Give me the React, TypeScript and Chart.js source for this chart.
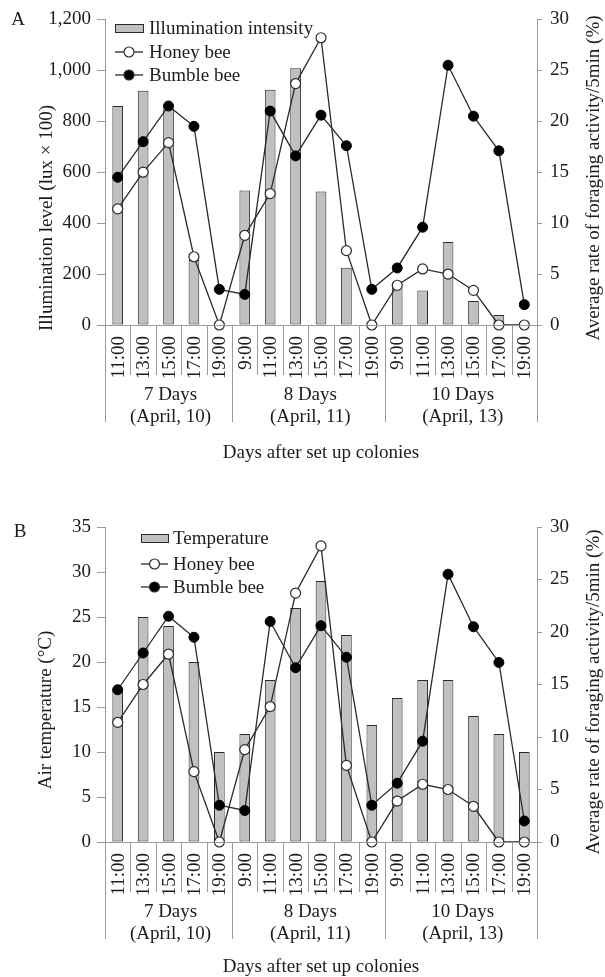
import React, { useEffect, useRef } from 'react';
import { Chart, registerables } from 'chart.js';

Chart.register(...registerables);

// ---------- data ----------
const timeLabels = ['11:00', '13:00', '15:00', '17:00', '19:00', '9:00', '11:00', '13:00', '15:00', '17:00', '19:00', '9:00', '11:00', '13:00', '15:00', '17:00', '19:00'];
const groupNames = ['7 Days', '8 Days', '10 Days'];
const groupDates = ['(April, 10)', '(April, 11)', '(April, 13)'];
const groupSizes = [5, 6, 6];

const illumination = [860, 920, 850, 255, 0, 528, 924, 1008, 524, 225, 0, 150, 135, 326, 94, 39, 0];
const temperature = [17, 25, 24, 20, 10, 12, 18, 26, 29, 23, 13, 16, 18, 18, 14, 12, 10];
const honeyBee = [11.4, 15.0, 17.9, 6.7, 0, 8.8, 12.9, 23.7, 28.2, 7.3, 0, 3.9, 5.5, 5.0, 3.4, 0, 0];
const bumbleBee = [14.5, 18.0, 21.5, 19.5, 3.5, 3.0, 21.0, 16.6, 20.6, 17.6, 3.5, 5.6, 9.6, 25.5, 20.5, 17.1, 2.0];

const illumAxis = { min: 0, max: 1200, step: 200 };
const tempAxis = { min: 0, max: 35, step: 5 };
const activityAxis = { min: 0, max: 30, step: 5 };

// ---------- styles ----------
const FONT = "'Liberation Serif', 'Times New Roman', serif";
const FS = 19;
const TEXT = '#1c1c1c';
const AXIS = '#9a9a9a';
const BAR_FILL = '#c0c0c0';
const DARK = '#2a2a2a';

type PanelCfg = {
  letter: string;
  letterPos: [number, number];
  leftTitle: string;
  leftTitlePos: [number, number];
  rightTitle: string;
  rightTitlePos: [number, number];
  barLabel: string;
  legend: { x0: number; x1: number; textX: number; rows: number[] };
  xTitleOffset: number;
};

function makePlugin(cfg: PanelCfg) {
  return {
    id: 'panelDecor',
    afterDraw(chart: any) {
      const ctx = chart.ctx as CanvasRenderingContext2D;
      const area = chart.chartArea;
      const xs = chart.scales.x;
      const n = timeLabels.length;
      const step = xs.getPixelForValue(1) - xs.getPixelForValue(0);
      ctx.save();
      // x axis line
      ctx.strokeStyle = AXIS;
      ctx.lineWidth = 1;
      ctx.beginPath();
      ctx.moveTo(area.left, Math.round(area.bottom) + 0.5);
      ctx.lineTo(area.right, Math.round(area.bottom) + 0.5);
      ctx.stroke();
      // separators
      const groupBounds: number[] = [0];
      groupSizes.forEach((s) => groupBounds.push(groupBounds[groupBounds.length - 1] + s));
      for (let i = 0; i <= n; i++) {
        const x = i < n ? xs.getPixelForValue(i) - step / 2 : xs.getPixelForValue(n - 1) + step / 2;
        const isGroup = groupBounds.includes(i);
        const len = isGroup ? 97 : 50;
        const px = Math.round(x) + 0.5;
        ctx.beginPath();
        ctx.moveTo(px, area.bottom);
        ctx.lineTo(px, area.bottom + len);
        ctx.stroke();
      }
      // time labels
      ctx.fillStyle = TEXT;
      ctx.font = `${FS}px ${FONT}`;
      for (let i = 0; i < n; i++) {
        const x = xs.getPixelForValue(i);
        ctx.save();
        ctx.translate(x + 1, area.bottom + 11);
        ctx.rotate(-Math.PI / 2);
        ctx.textAlign = 'right';
        ctx.textBaseline = 'middle';
        ctx.fillText(timeLabels[i], 0, 0);
        ctx.restore();
      }
      // group labels
      ctx.textAlign = 'center';
      ctx.textBaseline = 'middle';
      for (let g = 0; g < groupSizes.length; g++) {
        const a = xs.getPixelForValue(groupBounds[g]) - step / 2;
        const b = xs.getPixelForValue(groupBounds[g + 1] - 1) + step / 2;
        const cx = (a + b) / 2 + 2;
        ctx.fillText(groupNames[g], cx, area.bottom + 70);
        ctx.fillText(groupDates[g], cx, area.bottom + 92);
      }
      // x title
      ctx.fillText('Days after set up colonies', (area.left + area.right) / 2, area.bottom + cfg.xTitleOffset);
      // panel letter
      ctx.fillText(cfg.letter, cfg.letterPos[0], cfg.letterPos[1]);
      // y titles
      ctx.save();
      ctx.translate(cfg.leftTitlePos[0], cfg.leftTitlePos[1]);
      ctx.rotate(-Math.PI / 2);
      ctx.fillText(cfg.leftTitle, 0, 0);
      ctx.restore();
      ctx.save();
      ctx.translate(cfg.rightTitlePos[0], cfg.rightTitlePos[1]);
      ctx.rotate(-Math.PI / 2);
      ctx.fillText(cfg.rightTitle, 0, 0);
      ctx.restore();
      // legend
      const L = cfg.legend;
      ctx.textAlign = 'left';
      // bar swatch
      ctx.fillStyle = BAR_FILL;
      ctx.strokeStyle = DARK;
      ctx.lineWidth = 1;
      ctx.fillRect(L.x0, L.rows[0] - 4, L.x1 - L.x0, 8);
      ctx.strokeRect(L.x0 + 0.5, L.rows[0] - 3.5, L.x1 - L.x0, 8);
      ctx.fillStyle = TEXT;
      ctx.fillText(cfg.barLabel, L.textX, L.rows[0] + 1);
      const names = ['Honey bee', 'Bumble bee'];
      const fills = ['#ffffff', '#000000'];
      for (let k = 0; k < 2; k++) {
        const y = L.rows[k + 1];
        ctx.strokeStyle = DARK;
        ctx.lineWidth = 1.3;
        ctx.beginPath();
        ctx.moveTo(L.x0, y);
        ctx.lineTo(L.x1, y);
        ctx.stroke();
        ctx.beginPath();
        ctx.arc((L.x0 + L.x1) / 2, y, 5, 0, Math.PI * 2);
        ctx.fillStyle = fills[k];
        ctx.fill();
        ctx.lineWidth = 1.2;
        ctx.stroke();
        ctx.fillStyle = TEXT;
        ctx.fillText(names[k], L.textX, y + 1);
      }
      ctx.restore();
    },
  };
}

function buildConfig(barData: number[], barLabel: string, leftAxis: { min: number; max: number; step: number }, padTop: number, padBottom: number, cfg: PanelCfg) {
  const tickFont = { family: FONT, size: FS };
  return {
    type: 'bar' as const,
    data: {
      labels: timeLabels,
      datasets: [
        {
          type: 'line' as const,
          label: 'Honey bee',
          data: honeyBee,
          yAxisID: 'y1',
          borderColor: DARK,
          borderWidth: 1.3,
          backgroundColor: '#ffffff',
          pointBackgroundColor: '#ffffff',
          pointBorderColor: DARK,
          pointBorderWidth: 1.2,
          pointRadius: 5,
          tension: 0,
          clip: false as const,
          order: 0,
        },
        {
          type: 'line' as const,
          label: 'Bumble bee',
          data: bumbleBee,
          yAxisID: 'y1',
          borderColor: DARK,
          borderWidth: 1.3,
          backgroundColor: '#000000',
          pointBackgroundColor: '#000000',
          pointBorderColor: '#000000',
          pointBorderWidth: 1,
          pointRadius: 5,
          tension: 0,
          clip: false as const,
          order: 1,
        },
        {
          type: 'bar' as const,
          label: barLabel,
          data: barData,
          yAxisID: 'y',
          backgroundColor: BAR_FILL,
          borderColor: DARK,
          borderWidth: 1,
          borderSkipped: false,
          barPercentage: 0.42,
          categoryPercentage: 1,
          order: 2,
        },
      ],
    },
    options: {
      responsive: false,
      animation: false as const,
      layout: { padding: { top: padTop, bottom: padBottom, left: 0, right: 0 } },
      plugins: { legend: { display: false }, tooltip: { enabled: false }, title: { display: false } },
      scales: {
        x: { display: false, offset: true },
        y: {
          position: 'left' as const,
          min: leftAxis.min,
          max: leftAxis.max,
          ticks: {
            stepSize: leftAxis.step,
            font: tickFont,
            color: TEXT,
            padding: 6,
            callback: (v: any) => Number(v).toLocaleString('en-US'),
          },
          grid: { drawOnChartArea: false, drawTicks: true, tickLength: 8, color: AXIS },
          border: { color: AXIS, width: 1 },
          afterFit: (s: any) => { s.width = 105; },
        },
        y1: {
          position: 'right' as const,
          min: activityAxis.min,
          max: activityAxis.max,
          ticks: { stepSize: activityAxis.step, font: tickFont, color: TEXT, padding: 8 },
          grid: { drawOnChartArea: false, drawTicks: true, tickLength: 5, color: AXIS },
          border: { color: AXIS, width: 1 },
          afterFit: (s: any) => { s.width = 68; },
        },
      },
    },
    plugins: [makePlugin(cfg)],
  };
}

const panelA: PanelCfg = {
  letter: 'A',
  letterPos: [18, 20],
  leftTitle: 'Illumination level (lux \u00D7 100)',
  leftTitlePos: [47, 218],
  rightTitle: 'Average rate of foraging activity/5min (%)',
  rightTitlePos: [594, 178],
  barLabel: 'Illumination intensity',
  legend: { x0: 115, x1: 143, textX: 149, rows: [28, 52, 75] },
  xTitleOffset: 128,
};

const panelB: PanelCfg = {
  letter: 'B',
  letterPos: [20, 44],
  leftTitle: 'Air temperature (\u00B0C)',
  leftTitlePos: [46, 222],
  rightTitle: 'Average rate of foraging activity/5min (%)',
  rightTitlePos: [594, 204],
  barLabel: 'Temperature',
  legend: { x0: 141, x1: 168, textX: 173, rows: [50, 76, 99] },
  xTitleOffset: 125,
};

function Panel(props: { height: number; build: () => any }) {
  const ref = useRef<HTMLCanvasElement>(null);
  useEffect(() => {
    if (!ref.current) return;
    const chart = new Chart(ref.current, props.build());
    return () => chart.destroy();
  }, []);
  return <canvas ref={ref} width={605} height={props.height} style={{ display: 'block', width: 605, height: props.height }} />;
}

export default function App() {
  return (
    <div style={{ position: 'fixed', left: 0, top: 0, width: 605, height: 977, background: '#ffffff' }}>
      <Panel height={488} build={() => buildConfig(illumination, 'Illumination intensity', illumAxis, 16, 163, panelA)} />
      <Panel height={489} build={() => buildConfig(temperature, 'Temperature', tempAxis, 39, 135, panelB)} />
    </div>
  );
}
